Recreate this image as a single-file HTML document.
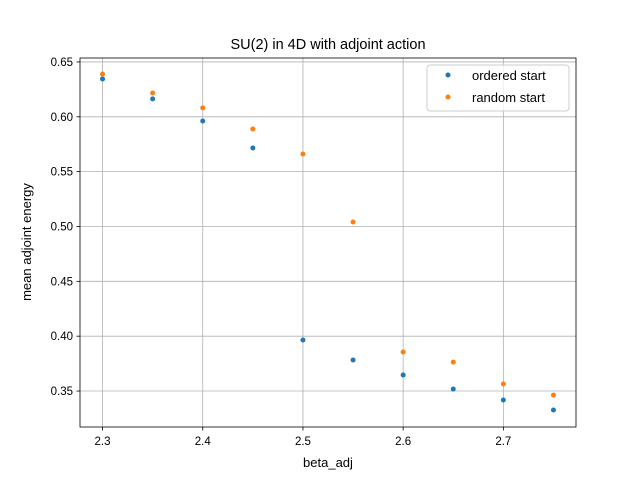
<!DOCTYPE html>
<html><head><meta charset="utf-8"><style>
body{margin:0;background:#fff;}
svg{display:block;font-family:"Liberation Sans","DejaVu Sans",sans-serif;}
</style></head><body>
<svg id="chart" width="640" height="480" xmlns="http://www.w3.org/2000/svg">
<rect width="640" height="480" fill="#fff"/>
<g id="grid"></g>
<g id="marks"></g>
<rect x="80" y="58" width="496" height="369" fill="none" stroke="#000" stroke-width="0.8"/>
<g id="ticks"></g>
<text x="328" y="49" text-anchor="middle" font-size="14.5">SU(2) in 4D with adjoint action</text>
<text x="328" y="467" text-anchor="middle" font-size="13">beta_adj</text>
<text transform="translate(31,242) rotate(-90)" text-anchor="middle" font-size="13">mean adjoint energy</text>
<g>
<rect x="427" y="65" width="142" height="46" rx="3" fill="#fff" fill-opacity="0.8" stroke="#ccc"/>
<g><circle cx="448" cy="75" r="2.5" fill="#1f77b4"/><text x="472" y="80" font-size="13">ordered start</text></g>
<g><circle cx="448" cy="97" r="2.5" fill="#ff7f0e"/><text x="472" y="102" font-size="13">random start</text></g>
</g>
</svg>
<script>
const betaValues=[2.3,2.35,2.4,2.45,2.5,2.55,2.6,2.65,2.7,2.75];
const orderedValues=[0.6345,0.6163,0.5962,0.5716,0.3965,0.3783,0.3646,0.3518,0.3418,0.3327];
const randomValues=[0.639,0.6217,0.6081,0.5889,0.5661,0.5041,0.3856,0.3764,0.3564,0.3463];
const xTicks=[2.3,2.4,2.5,2.6,2.7];
const xTickLabels=["2.3","2.4","2.5","2.6","2.7"];
const yTicks=[0.35,0.40,0.45,0.50,0.55,0.60,0.65];
const yTickLabels=["0.35","0.40","0.45","0.50","0.55","0.60","0.65"];
const X0=80,X1=576,Y0=427,Y1=58,xMin=2.2775,xMax=2.7725,yMin=0.3172,yMax=0.6536;
function xs(v){return X0+(v-xMin)/(xMax-xMin)*(X1-X0);}
function ys(v){return Y0-(v-yMin)/(yMax-yMin)*(Y0-Y1);}
const NS="http://www.w3.org/2000/svg";
function mk(tag,attrs,parent){const e=document.createElementNS(NS,tag);for(const k in attrs)e.setAttribute(k,attrs[k]);parent.appendChild(e);return e;}
const grid=document.getElementById('grid'),ticks=document.getElementById('ticks'),marks=document.getElementById('marks');
xTicks.forEach((t,i)=>{const x=xs(t);
 const g=mk('line',{x1:x,x2:x,y1:Y1,y2:Y0,stroke:'#b0b0b0','stroke-width':0.8},grid);
 
 
 mk('line',{x1:x,x2:x,y1:Y0,y2:Y0+3.5,stroke:'#000','stroke-width':0.8},ticks);
 const tx=mk('text',{x:x,y:Y0+18,'text-anchor':'middle','font-size':11.5},ticks);tx.textContent=xTickLabels[i];
 
 
});
yTicks.forEach((t,i)=>{const y=ys(t);
 const g=mk('line',{x1:X0,x2:X1,y1:y,y2:y,stroke:'#b0b0b0','stroke-width':0.8},grid);
 
 
 mk('line',{x1:X0-3.5,x2:X0,y1:y,y2:y,stroke:'#000','stroke-width':0.8},ticks);
 const tx=mk('text',{x:X0-7,y:y+4,'text-anchor':'end','font-size':11.5},ticks);tx.textContent=yTickLabels[i];
 
 
});
betaValues.forEach((b,i)=>{
 const c=mk('circle',{cx:xs(b),cy:ys(orderedValues[i]),r:2.5,fill:'#1f77b4'},marks);
 
 
});
betaValues.forEach((b,i)=>{
 const c=mk('circle',{cx:xs(b),cy:ys(randomValues[i]),r:2.5,fill:'#ff7f0e'},marks);
 
 
});
</script>
</body></html>
